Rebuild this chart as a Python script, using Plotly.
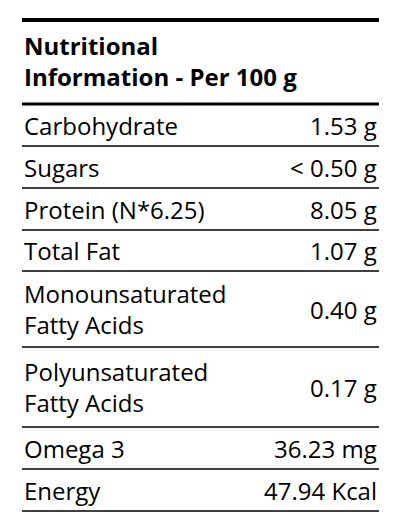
import plotly.graph_objects as go

title_lines = ["Nutritional", "Information - Per 100 g"]
nutrients = ["Carbohydrate", "Sugars", "Protein (N*6.25)", "Total Fat",
             "Monounsaturated<br>Fatty Acids", "Polyunsaturated<br>Fatty Acids",
             "Omega 3", "Energy"]
amounts = ["1.53 g", "< 0.50 g", "8.05 g", "1.07 g", "0.40 g", "0.17 g",
           "36.23 mg", "47.94 Kcal"]

# row boundaries (pixels from top)
bounds = [104, 146, 188, 230, 271, 347, 427, 469, 511]
L, R = 22, 379
FONT = "Open Sans"
SZ = 24

fig = go.Figure()
fig.add_shape(type="line", x0=L, x1=R, y0=20, y1=20, line=dict(color="black", width=4))
fig.add_shape(type="line", x0=L, x1=R, y0=bounds[0], y1=bounds[0], line=dict(color="black", width=3))
for b in bounds[1:]:
    fig.add_shape(type="line", x0=L, x1=R, y0=b, y1=b, line=dict(color="black", width=1.5))

fig.add_annotation(x=L, y=61, text="<b>" + "<br>".join(title_lines) + "</b>",
                   xanchor="left", yanchor="middle", align="left", showarrow=False,
                   font=dict(family=FONT, size=SZ, color="black"))
for i, (n, a) in enumerate(zip(nutrients, amounts)):
    yc = (bounds[i] + bounds[i + 1]) / 2
    fig.add_annotation(x=L, y=yc, text=n, xanchor="left", yanchor="middle", align="left",
                       showarrow=False, font=dict(family=FONT, size=SZ, color="black"))
    fig.add_annotation(x=R, y=yc, text=a, xanchor="right", yanchor="middle",
                       showarrow=False, font=dict(family=FONT, size=SZ, color="black"))

# page body has an 8px margin: shift the pixel frame to compensate
fig.update_layout(width=401, height=531, margin=dict(l=0, r=0, t=0, b=0),
                  plot_bgcolor="white", paper_bgcolor="white", showlegend=False,
                  xaxis=dict(range=[8, 409], visible=False, fixedrange=True),
                  yaxis=dict(range=[539, 8], visible=False, fixedrange=True))
fig.write_html("out.html", config={"displayModeBar": False})
